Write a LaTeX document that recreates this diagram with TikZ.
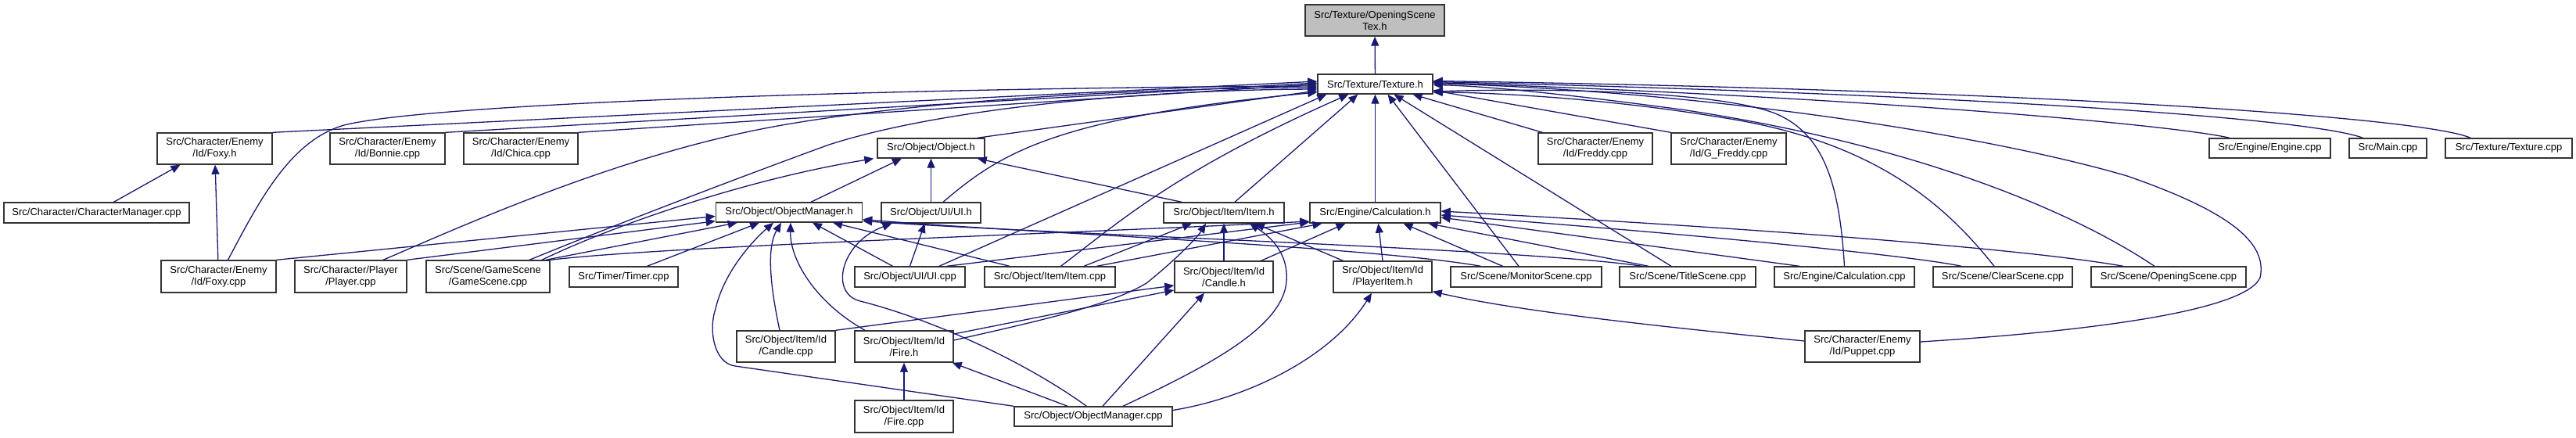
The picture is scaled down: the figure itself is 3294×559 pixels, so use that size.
\documentclass[tikz,border=0pt]{standalone}
\usepackage{fontspec}
\setmainfont{Liberation Sans}
\usetikzlibrary{arrows.meta}
\definecolor{edgec}{HTML}{191970}
\definecolor{hl}{HTML}{BFBFBF}
\begin{document}
\begin{tikzpicture}[x=0.5pt,y=-0.5pt,
 box/.style={draw=black!80, fill=white, line width=0.7pt, inner sep=0pt, align=center,
   font=\fontsize{6.5pt}{7.5pt}\selectfont},
 edge/.style={draw=edgec, line width=0.65pt, -{Triangle[length=6pt,width=5pt]}}]
\useasboundingbox (0,0) rectangle (3294,559);
% nodes
\node[box, fill=hl, minimum width=89pt, minimum height=20pt] (OST) at (1758,26) {Src/Texture/OpeningScene\\Tex.h};
\node[box, minimum width=73.5pt, minimum height=12.5pt] (TexH) at (1758.5,107.5) {Src/Texture/Texture.h};
\node[box, minimum width=73.5pt, minimum height=20pt] (FoxyH) at (274.5,190) {Src/Character/Enemy\\/Id/Foxy.h};
\node[box, minimum width=73.5pt, minimum height=20pt] (Bonnie) at (495.5,190) {Src/Character/Enemy\\/Id/Bonnie.cpp};
\node[box, minimum width=73pt, minimum height=20pt] (Chica) at (666,190) {Src/Character/Enemy\\/Id/Chica.cpp};
\node[box, minimum width=68.5pt, minimum height=12.5pt] (ObjH) at (1190.5,189.5) {Src/Object/Object.h};
\node[box, minimum width=73pt, minimum height=20pt] (Freddy) at (2040,190) {Src/Character/Enemy\\/Id/Freddy.cpp};
\node[box, minimum width=73.5pt, minimum height=20pt] (GFreddy) at (2210.5,190) {Src/Character/Enemy\\/Id/G\_Freddy.cpp};
\node[box, minimum width=77.5pt, minimum height=12.5pt] (EngineCpp) at (2902.5,189.5) {Src/Engine/Engine.cpp};
\node[box, minimum width=49.5pt, minimum height=12.5pt] (MainCpp) at (3053.5,189.5) {Src/Main.cpp};
\node[box, minimum width=81pt, minimum height=12.5pt] (TexCpp) at (3208,189.5) {Src/Texture/Texture.cpp};
\node[box, minimum width=118.5pt, minimum height=13pt] (CharMgr) at (123.5,272) {Src/Character/CharacterManager.cpp};
\node[box, minimum width=93.5pt, minimum height=12.5pt] (ObjMgrH) at (1009,271.5) {Src/Object/ObjectManager.h};
\node[box, minimum width=63.5pt, minimum height=13pt] (UIH) at (1190.5,272) {Src/Object/UI/UI.h};
\node[box, minimum width=77pt, minimum height=13pt] (ItemH) at (1565,272) {Src/Object/Item/Item.h};
\node[box, minimum width=83.5pt, minimum height=13pt] (CalcH) at (1758.5,272) {Src/Engine/Calculation.h};
\node[box, minimum width=73.5pt, minimum height=20.5pt] (FoxyCpp) at (279.5,353.5) {Src/Character/Enemy\\/Id/Foxy.cpp};
\node[box, minimum width=71.5pt, minimum height=20.5pt] (PlayerCpp) at (448.5,353.5) {Src/Character/Player\\/Player.cpp};
\node[box, minimum width=79pt, minimum height=20.5pt] (GameSceneCpp) at (624,353.5) {Src/Scene/GameScene\\/GameScene.cpp};
\node[box, minimum width=69.5pt, minimum height=13pt] (TimerCpp) at (797.5,354) {Src/Timer/Timer.cpp};
\node[box, minimum width=70.5pt, minimum height=13pt] (UICpp) at (1163.5,354) {Src/Object/UI/UI.cpp};
\node[box, minimum width=83.5pt, minimum height=13pt] (ItemCpp) at (1342.5,354) {Src/Object/Item/Item.cpp};
\node[box, minimum width=63pt, minimum height=20pt] (CandleH) at (1565,354) {Src/Object/Item/Id\\/Candle.h};
\node[box, minimum width=63pt, minimum height=20pt] (PlayerItemH) at (1768,354) {Src/Object/Item/Id\\/PlayerItem.h};
\node[box, minimum width=96.5pt, minimum height=13pt] (MonitorCpp) at (1951.5,354) {Src/Scene/MonitorScene.cpp};
\node[box, minimum width=87pt, minimum height=13pt] (TitleCpp) at (2158,354) {Src/Scene/TitleScene.cpp};
\node[box, minimum width=89.5pt, minimum height=13pt] (CalcCpp) at (2358.5,354) {Src/Engine/Calculation.cpp};
\node[box, minimum width=89pt, minimum height=13pt] (ClearCpp) at (2561,354) {Src/Scene/ClearScene.cpp};
\node[box, minimum width=99pt, minimum height=13pt] (OpeningCpp) at (2773,354) {Src/Scene/OpeningScene.cpp};
\node[box, minimum width=63pt, minimum height=20pt] (CandleCpp) at (1005,443) {Src/Object/Item/Id\\/Candle.cpp};
\node[box, minimum width=63pt, minimum height=20pt] (FireH) at (1156,443) {Src/Object/Item/Id\\/Fire.h};
\node[box, minimum width=73.5pt, minimum height=20pt] (PuppetCpp) at (2381.5,443) {Src/Character/Enemy\\/Id/Puppet.cpp};
\node[box, minimum width=63pt, minimum height=20.5pt] (FireCpp) at (1156,532.5) {Src/Object/Item/Id\\/Fire.cpp};
\node[box, minimum width=101pt, minimum height=12.5pt] (ObjMgrCpp) at (1398,532.5) {Src/Object/ObjectManager.cpp};
% ---- edges
\draw[edge] (TexH) -- (OST);
% into Texture.h (left side)
\draw[edge] (FoxyH.north east) -- ([yshift=1.75pt]TexH.west);
\draw[edge] (Bonnie.north east) -- ([yshift=0.75pt]TexH.west);
\draw[edge] (Chica.north east) -- (TexH.west);
\draw[edge] ([xshift=6pt]FoxyCpp.north) .. controls (330,260) and (370,180) .. (440,160) .. controls (560,130) and (1200,112) .. ([yshift=-1.25pt]TexH.west);
\draw[edge] ([xshift=20.75pt]PlayerCpp.north) .. controls (600,285) and (800,195) .. (1000,160) .. controls (1200,125) and (1500,112) .. ([yshift=-2.25pt]TexH.west);
\draw[edge] ([xshift=26.5pt]GameSceneCpp.north) .. controls (780,290) and (950,225) .. (1060,185) .. controls (1200,140) and (1450,115) .. ([yshift=-3.25pt]TexH.west);
\draw[edge] ([xshift=-5pt]ObjH.north east) -- ([yshift=-4.25pt]TexH.west);
\draw[edge] ([xshift=7.75pt]UIH.north) .. controls (1280,195) and (1350,150) .. ([yshift=-5.25pt]TexH.west);
% into Texture.h (bottom)
\draw[edge] ([xshift=18.75pt]UICpp.north) -- ([xshift=6pt]TexH.south west);
\draw[edge] ([xshift=7pt]ItemCpp.north) .. controls (1430,285) and (1500,220) .. ([xshift=20pt]TexH.south west);
\draw[edge] ([xshift=7pt]ItemH.north) -- ([xshift=26pt]TexH.south west);
\draw[edge] (CalcH) -- (TexH);
\draw[edge] ([xshift=-4.75pt]MonitorCpp.north) -- ([xshift=8pt]TexH.south);
\draw[edge] ([xshift=-10.5pt]TitleCpp.north) -- ([xshift=12pt]TexH.south);
\draw[edge] ([xshift=3pt]Freddy.north west) -- ([xshift=24pt]TexH.south);
% into Texture.h (right side)
\draw[edge] (GFreddy.north west) -- ([yshift=-4pt]TexH.east);
\draw[edge] (CalcCpp.north) .. controls (2352,230) and (2330,170) .. (2270,145) .. controls (2200,118) and (2000,112) .. ([yshift=-4.75pt]TexH.east);
\draw[edge] ([xshift=-5.5pt]ClearCpp.north) .. controls (2490,265) and (2400,180) .. (2200,150) .. controls (2050,125) and (1900,118) .. ([yshift=-5.25pt]TexH.east);
\draw[edge] ([xshift=-9pt]OpeningCpp.north) .. controls (2650,270) and (2450,185) .. (2150,140) .. controls (2000,120) and (1900,110) .. ([yshift=-0.5pt]TexH.east);
\draw[edge] ([yshift=3pt]PuppetCpp.east) .. controls (2650,425) and (2870,400) .. (2890,355) .. controls (2900,310) and (2850,270) .. (2720,225) .. controls (2550,175) and (2200,118) .. ([yshift=0.5pt]TexH.east);
\draw[edge] ([xshift=-25.75pt]EngineCpp.north) .. controls (2780,160) and (2400,125) .. ([yshift=1pt]TexH.east);
\draw[edge] ([xshift=-16pt]MainCpp.north) .. controls (2950,150) and (2500,120) .. ([yshift=1.5pt]TexH.east);
\draw[edge] ([xshift=-24.5pt]TexCpp.north) .. controls (3100,150) and (2600,115) .. ([yshift=2pt]TexH.east);
% Foxy.h
\draw[edge] ([xshift=11pt]CharMgr.north) -- ([xshift=-22pt]FoxyH.south);
\draw[edge] (FoxyCpp) -- (FoxyH);
% Object.h
\draw[edge] ([xshift=14pt]ObjMgrH.north) -- ([xshift=-18.75pt]ObjH.south);
\draw[edge] (UIH) -- (ObjH);
\draw[edge] ([xshift=-27pt]ItemH.north) -- ([xshift=-5pt]ObjH.south east);
\draw[edge] ([xshift=34.5pt]GameSceneCpp.north) .. controls (780,290) and (950,230) .. ([xshift=-2pt]ObjH.south west);
% ObjectManager.h
\draw[edge] (FoxyCpp.north east) -- ([yshift=-2.5pt]ObjMgrH.west);
\draw[edge] (PlayerCpp.north east) -- ([yshift=1pt]ObjMgrH.south west);
\draw[edge] ([xshift=37pt]GameSceneCpp.north) -- ([xshift=14pt]ObjMgrH.south west);
\draw[edge] ([xshift=15pt]TimerCpp.north) -- ([xshift=-19pt]ObjMgrH.south);
\draw[edge] (ObjMgrCpp.north west) -- (940,468) .. controls (912,464) and (906,420) .. (915,395) .. controls (925,350) and (960,310) .. ([xshift=-10pt]ObjMgrH.south);
\draw[edge] ([xshift=-4pt]CandleCpp.north) .. controls (988,380) and (978,320) .. ([xshift=-5pt]ObjMgrH.south);
\draw[edge] ([xshift=-25pt]FireH.north) .. controls (1040,385) and (1010,330) .. ([xshift=1pt]ObjMgrH.south);
\draw[edge] ([xshift=-11pt]UICpp.north) -- ([xshift=15pt]ObjMgrH.south);
\draw[edge] ([xshift=-25.75pt]ItemCpp.north) -- ([xshift=28pt]ObjMgrH.south);
\draw[edge] ([xshift=-29pt]MonitorCpp.north) .. controls (1750,315) and (1300,297) .. ([yshift=-4.5pt]ObjMgrH.east);
\draw[edge] ([xshift=-29pt]TitleCpp.north) .. controls (1950,318) and (1350,300) .. ([yshift=-5.5pt]ObjMgrH.east);
% UI.h
\draw[edge] ([xshift=-4.25pt]ObjMgrCpp.north) .. controls (1300,455) and (1180,405) .. (1100,385) .. controls (1060,375) and (1075,310) .. ([xshift=-25pt]UIH.south);
\draw[edge] (UICpp.north) -- ([xshift=-4pt]UIH.south);
% Item.h
\draw[edge] ([xshift=21.75pt]ItemCpp.north) -- ([xshift=-20.5pt]ItemH.south);
\draw[edge] ([yshift=4pt]FireH.east) .. controls (1330,410) and (1420,390) .. (1466,362) .. controls (1500,335) and (1530,305) .. ([xshift=-11.5pt]ItemH.south);
\draw[edge] (CandleH) -- (ItemH);
\draw[edge] ([xshift=19pt]ObjMgrCpp.north) .. controls (1540,470) and (1640,420) .. (1645,360) .. controls (1648,320) and (1620,300) .. ([xshift=16.5pt]ItemH.south);
\draw[edge] ([xshift=6.5pt]PlayerItemH.north west) -- ([xshift=20pt]ItemH.south);
% Candle.h
\draw[edge] (CandleCpp.north east) -- ([yshift=-5.5pt]CandleH.west);
\draw[edge] ([yshift=8pt]FireH.east) -- ([yshift=-8.5pt]CandleH.west);
\draw[edge] ([xshift=6pt]ObjMgrCpp.north) -- ([xshift=-12.5pt]CandleH.south);
% Fire.h
\draw[edge] (FireCpp) -- (FireH);
\draw[edge] ([xshift=-16.5pt]ObjMgrCpp.north) -- ([xshift=-1pt]FireH.south east);
% PlayerItem.h
\draw[edge] ([yshift=4pt]ObjMgrCpp.east) .. controls (1590,510) and (1700,460) .. ([xshift=-7pt]PlayerItemH.south);
\draw[edge] ([yshift=3.5pt]PuppetCpp.west) .. controls (2150,420) and (1950,400) .. ([yshift=1pt]PlayerItemH.south east);
% Calculation.h
\draw[edge] ([xshift=-8pt]CandleH.north east) -- ([xshift=-19pt]CalcH.south);
\draw[edge] (PlayerItemH.north) -- ([xshift=2pt]CalcH.south);
\draw[edge] (GameSceneCpp.north east) .. controls (850,315) and (1330,300) .. ([yshift=-5.5pt]CalcH.west);
\draw[edge] ([xshift=-12pt]UICpp.north east) -- ([yshift=-6pt]CalcH.west);
\draw[edge] ([xshift=30pt]ItemCpp.north) -- ([xshift=-34pt]CalcH.south);
\draw[edge] ([xshift=-15pt]MonitorCpp.north) -- ([xshift=18pt]CalcH.south);
\draw[edge] ([xshift=-25pt]TitleCpp.north) -- ([xshift=34pt]CalcH.south);
\draw[edge] ([xshift=-28.75pt]CalcCpp.north) -- ([yshift=-3pt]CalcH.east);
\draw[edge] ([xshift=-26.5pt]ClearCpp.north) .. controls (2450,328) and (2200,302) .. ([yshift=-1.5pt]CalcH.east);
\draw[edge] ([xshift=-29pt]OpeningCpp.north) .. controls (2600,320) and (2300,295) .. ([yshift=1pt]CalcH.east);
\end{tikzpicture}
\end{document}
